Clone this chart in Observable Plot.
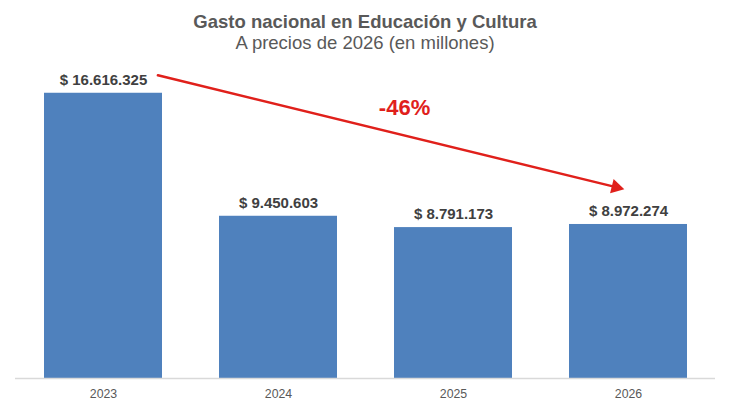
<!DOCTYPE html>
<html>
<head>
<meta charset="utf-8">
<script src="https://cdn.jsdelivr.net/npm/d3@7"></script>
<script src="https://cdn.jsdelivr.net/npm/@observablehq/plot@0.6"></script>
<style>
  html, body { margin: 0; padding: 0; background: #ffffff; }
  body { width: 730px; height: 409px; overflow: hidden; font-family: "Liberation Sans", Arial, sans-serif; }
  #head { height: 58px; box-sizing: border-box; padding-top: 11px; text-align: center; color: #595959; }
  #head .t { font-size: 18.5px; font-weight: bold; line-height: 21px; }
  #head .s { font-size: 18.5px; line-height: 21px; }
  svg { display: block; overflow: visible; }
</style>
</head>
<body>
<div id="head">
  <div class="t">Gasto nacional en Educación y Cultura</div>
  <div class="s">A precios de 2026 (en millones)</div>
</div>
<div id="chart"></div>
<script>
// Data
const years = ["2023", "2024", "2025", "2026"];
const values = [16616325, 9450603, 8791173, 8972274];
const valueLabels = ["$ 16.616.325", "$ 9.450.603", "$ 8.791.173", "$ 8.972.274"];
const changeLabel = "-46%";
// Arrow drawn from the 2023 label toward 2026 (value-axis anchor points)
const arrowFrom = { year: "2023", value: 18440000 };
const arrowTo = { year: "2026", value: 10970000 };
const changeLabelAnchor = { year: "2025", value: 15740000 };

const data = years.map((y, i) => ({ year: y, value: values[i], label: valueLabels[i] }));

const red = "#E0201B";

const chart = Plot.plot({
  width: 730,
  height: 351,
  marginLeft: 15,
  marginRight: 15,
  marginTop: 11,
  marginBottom: 31,
  style: { fontFamily: "'Liberation Sans', Arial, sans-serif", background: "#ffffff", overflow: "visible" },
  x: { domain: years, paddingInner: 0.326, paddingOuter: 0.163, label: null },
  y: { domain: [0, 18000000], axis: null },
  marks: [
    Plot.barY(data, { x: "year", y: "value", fill: "#4F81BD" }),
    Plot.ruleY([0], { stroke: "#D9D9D9", strokeWidth: 1.5 }),
    Plot.axisX({ tickSize: 0, tickPadding: 11, fontSize: 12.3, color: "#595959", label: null }),
    Plot.text(data, {
      x: "year", y: "value", text: "label", dy: -13,
      fontSize: 15, fontWeight: "bold", fill: "#404040", lineAnchor: "middle"
    }),
    Plot.arrow([{ a: arrowFrom, b: arrowTo }], {
      x1: d => d.a.year, y1: d => d.a.value,
      x2: d => d.b.year, y2: d => d.b.value,
      stroke: red, strokeWidth: 2.5,
      insetStart: 56, insetEnd: 15,
      headLength: 0
    }),
    Plot.dot([arrowTo], {
      x: "year", y: "value", symbol: "triangle", r: 5.5,
      rotate: 103.7, dx: -12.5, dy: -3, fill: red, stroke: "none"
    }),
    Plot.text([changeLabelAnchor], {
      x: "year", y: "value", text: () => changeLabel, dx: -49,
      fontSize: 22, fontWeight: "bold", fill: red, lineAnchor: "middle"
    })
  ]
});
document.getElementById("chart").appendChild(chart);
</script>
</body>
</html>
